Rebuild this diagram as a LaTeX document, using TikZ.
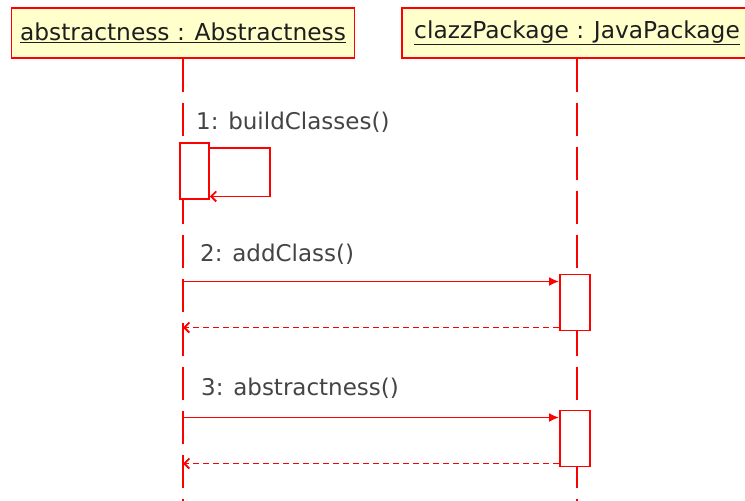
\documentclass[tikz,border=0pt]{standalone}
\usepackage{fontspec}
\setmainfont{DejaVu Sans}
\usepackage{tikz}
\usetikzlibrary{positioning,arrows.meta}
\definecolor{ObjFill}{RGB}{255,255,204}
\definecolor{SeqRed}{RGB}{255,0,0}
\definecolor{MsgText}{RGB}{68,68,68}
\definecolor{ObjText}{RGB}{30,30,30}
\tikzset{
  % Object head of a lifeline
  objbox/.style={
    rectangle,
    draw=SeqRed,
    fill=ObjFill,
    line width=1.8pt,
    minimum height=50,
    inner sep=0pt,
    text=ObjText,
    font=\fontsize{23.3}{26}\selectfont
  },
  % Lifeline
  lifeline/.style={
    draw=SeqRed,
    line width=1.8pt,
    dash pattern=on 33pt off 11pt
  },
  % Activation bar
  actbox/.style={
    rectangle,
    draw=SeqRed,
    fill=white,
    line width=1.8pt,
    minimum width=29,
    minimum height=56,
    inner sep=0pt
  },
  % Synchronous call
  call/.style={
    draw=SeqRed,
    line width=1.9pt,
    -{Latex[length=10pt,width=9pt]}
  },
  % Return message
  reply/.style={
    draw=SeqRed,
    line width=1.9pt,
    dash pattern=on 6pt off 4pt,
    -{Straight Barb[length=5pt,width=10pt]}
  },
  % Self call
  selfcall/.style={
    draw=SeqRed,
    line width=1.8pt,
    -{Straight Barb[length=5pt,width=10pt]}
  },
  % Message label
  msg/.style={
    anchor=base west,
    inner sep=0pt,
    text=MsgText,
    font=\fontsize{23}{26}\selectfont
  }
}

\begin{document}
\begin{tikzpicture}[x=1pt,y=-1pt]
  \useasboundingbox (0,0) rectangle (745,501);
  \clip (0,0) rectangle (745,501);

  \node[objbox, minimum width=343] (abs) at (183,33) {\underline{abstractness : Abstractness}};
  \node[objbox, minimum width=350] (pkg) at (577,33) {\underline{clazzPackage : JavaPackage}};

  \coordinate (absEnd) at (183,505);
  \coordinate (pkgEnd) at (577,505);

  % Lifelines
  \draw[lifeline] (abs.south) -- (absEnd);
  \draw[lifeline] (pkg.south) -- (pkgEnd);

  % Activations
  \node[actbox] (act1) at (194.5,171)   {};
  \node[actbox, minimum width=30] (act2) at (575,302.5) {};
  \node[actbox, minimum width=30] (act3) at (575,438.5) {};

  % 1: self call
  \node[msg] (m1) at (196,129) {1: buildClasses()};
  \draw[selfcall] ([yshift=-5.5pt]act1.north east) -- ++(60,0) |- ([yshift=3.5pt]act1.south east);

  % 2: call and return
  \node[msg] (m2) at (200,261) {2: addClass()};
  \coordinate (c2) at (183,281.5);
  \coordinate (r2) at (183,327.5);
  \draw[call]  (c2) -- (c2 -| act2.west);
  \draw[reply] (r2 -| act2.west) -- (r2);

  % 3: call and return
  \node[msg] (m3) at (201,395) {3: abstractness()};
  \coordinate (c3) at (183,417.5);
  \coordinate (r3) at (183,463.5);
  \draw[call]  (c3) -- (c3 -| act3.west);
  \draw[reply] (r3 -| act3.west) -- (r3);
\end{tikzpicture}
\end{document}
